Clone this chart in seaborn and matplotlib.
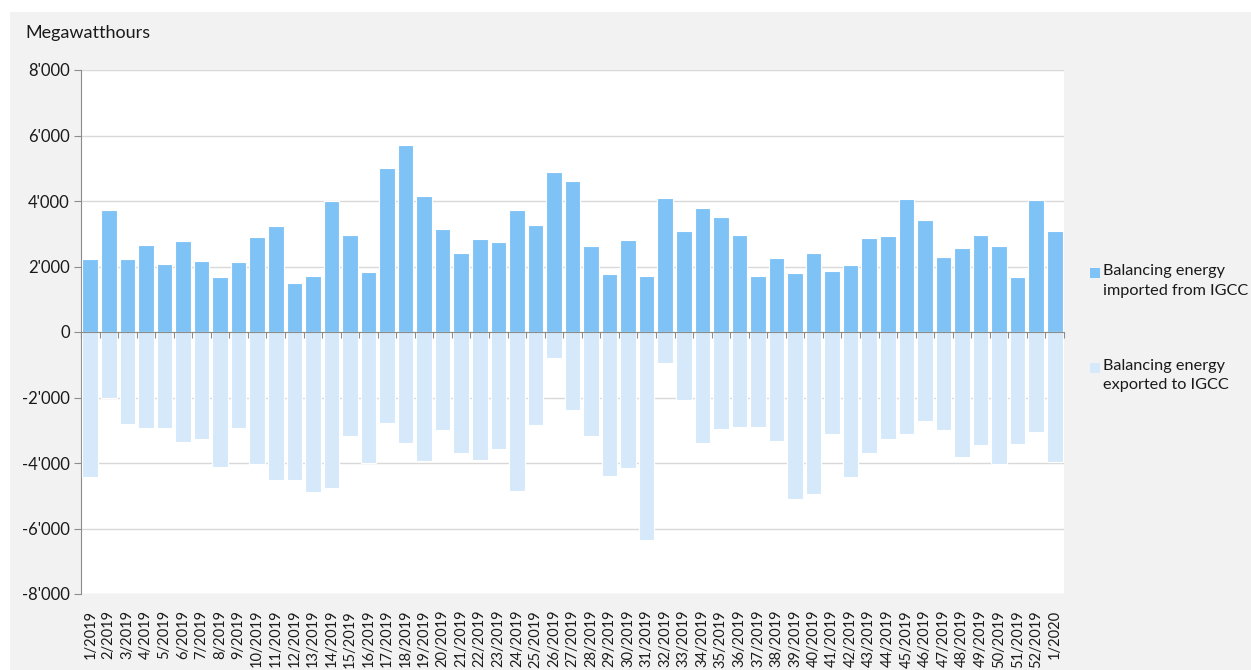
import seaborn as sns
import pandas as pd
import numpy as np
import matplotlib.pyplot as plt
from matplotlib.patches import Rectangle
from matplotlib.ticker import FuncFormatter

# weekly balancing energy (MWh)
weeks = [f"{i}/2019" for i in range(1, 53)] + ["1/2020"]
imported = [2240, 3730, 2240, 2660, 2075, 2775, 2155, 1680, 2125, 2895,
            3250, 1495, 1705, 3985, 2955, 1830, 5010, 5710, 4155, 3140,
            2400, 2845, 2745, 3710, 3270, 4880, 4615, 2640, 1780, 2805,
            1705, 4105, 3090, 3780, 3515, 2955, 1705, 2265, 1810, 2400,
            1870, 2055, 2875, 2935, 4055, 3415, 2285, 2560, 2955, 2630,
            1675, 4025, 3090]
exported = [-4430, -2025, -2810, -2940, -2940, -3370, -3280, -4110, -2940, -4040,
            -4520, -4520, -4875, -4755, -3185, -4000, -2780, -3400, -3950, -2980,
            -3685, -3900, -3570, -4865, -2850, -795, -2370, -3185, -4405, -4165,
            -6360, -955, -2085, -3390, -2960, -2910, -2910, -3340, -5110, -4955,
            -3105, -4440, -3685, -3255, -3105, -2730, -2990, -3825, -3450, -4030,
            -3420, -3045, -3960]
series = ["Balancing energy\nimported from IGCC", "Balancing energy\nexported to IGCC"]
colors = ["#7fc3f6", "#d5e9fb"]

df = pd.concat([
    pd.DataFrame({"week": weeks, "value": imported, "series": series[0]}),
    pd.DataFrame({"week": weeks, "value": exported, "series": series[1]}),
])

sns.set_style("white")
plt.rcParams['font.family'] = ['Lato', 'DejaVu Sans']
txt = "#1a1a1a"

fig = plt.figure(figsize=(12.51, 6.70), dpi=100, facecolor="white")
fig.patches.append(Rectangle((10/1251, 0), 1 - 10/1251, 1 - 12/670,
                             transform=fig.transFigure, facecolor="#f2f2f2",
                             edgecolor="none", zorder=-10))
ax = fig.add_axes([81/1251, 1 - 594/670, 983/1251, 524/670])
ax.set_facecolor("white")

sns.barplot(data=df, x="week", y="value", hue="series", dodge=False,
            palette=colors, saturation=1, width=0.84, edgecolor="white",
            linewidth=0.8, legend=False, ax=ax, zorder=3)

ax.set_ylim(-8000, 8000)
ax.set_xlim(-0.5, len(weeks) - 0.5)
ax.set_yticks(np.arange(-8000, 8001, 2000))
ax.yaxis.set_major_formatter(FuncFormatter(lambda v, p: f"{int(v):,}".replace(",", "'")))
ax.grid(axis="y", color="#d9d9d9", linewidth=1, zorder=0)
ax.set_axisbelow(True)
ax.set_xlabel("")
ax.set_ylabel("")

# zero line with category separators
ax2 = ax.twiny()
ax2.set_xlim(ax.get_xlim())
ax2.spines["bottom"].set_position(("data", 0))
for s in ["top", "right", "left"]:
    ax2.spines[s].set_visible(False)
ax2.spines["bottom"].set_color("#8c8c8c")
ax2.xaxis.set_ticks_position("bottom")
ax2.set_xticks(np.arange(-0.5, len(weeks), 1))
ax2.tick_params(axis="x", length=4, color="#8c8c8c", labelbottom=False, labeltop=False)
ax2.spines["bottom"].set_zorder(5)

for s in ["top", "right", "bottom"]:
    ax.spines[s].set_visible(False)
ax.spines["left"].set_color("#8c8c8c")
ax.tick_params(axis="y", left=True, length=5, color="#8c8c8c", labelsize=12,
               labelcolor=txt, pad=3)
ax.tick_params(axis="x", bottom=False, top=False, labelsize=10.5, labelcolor=txt,
               rotation=90, pad=8)

fig.text(25/1251, 1 - 33/670, "Megawatthours", fontsize=13, color=txt,
         va="center", ha="left")

# legend: square aligned with the first line of each label
legend_tops = [264, 359]
for c, lab, top in zip(colors, series, legend_tops):
    fig.patches.append(Rectangle((1090/1251, 1 - (top + 14)/670), 10/1251, 10/670,
                                 transform=fig.transFigure, facecolor=c,
                                 edgecolor="none"))
    fig.text(1103/1251, 1 - top/670, lab, fontsize=11.7, color=txt, va="top",
             ha="left", linespacing=1.5)

fig.savefig("out.png", dpi=100, facecolor=fig.get_facecolor())
